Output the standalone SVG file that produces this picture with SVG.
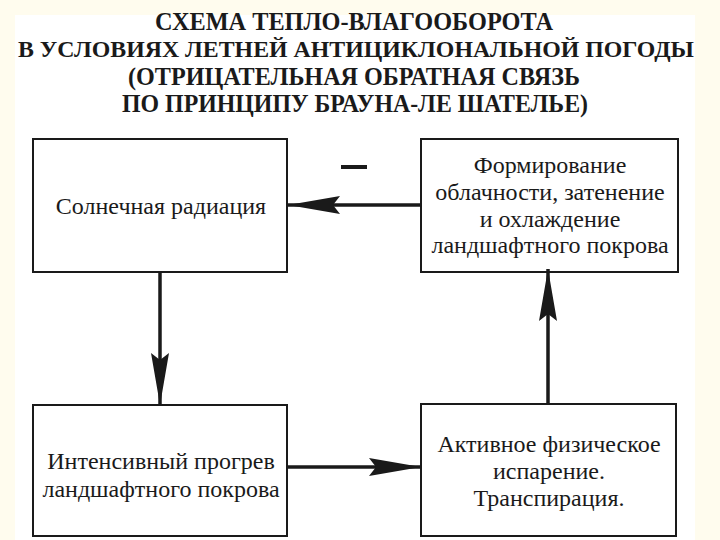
<svg xmlns="http://www.w3.org/2000/svg" width="720" height="540" viewBox="0 0 720 540">
  <style>
    .title { font-family: "Liberation Serif", "DejaVu Serif", serif; font-weight: bold; font-size: 26px; fill: #1a1a1a; text-anchor: middle; }
    .label { font-family: "Liberation Serif", "DejaVu Serif", serif; font-size: 24px; fill: #1a1a1a; text-anchor: middle; }
    .box { fill: #ffffff; stroke: #1a1a1a; stroke-width: 2; }
    .conn { stroke: #1a1a1a; stroke-width: 3.5; fill: none; }
  </style>
  <defs>
    <marker id="arrow" markerUnits="userSpaceOnUse" orient="auto" viewBox="-55 -12 57 24" refX="0" refY="0" markerWidth="57" markerHeight="24" overflow="visible">
      <path d="M0,0 L-52,-9 L-45,0 L-52,9 Z" fill="#1a1a1a"/>
    </marker>
  </defs>
  <rect x="0" y="0" width="720" height="540" fill="#fffcee"/>
  <rect x="15" y="15" width="680" height="525" fill="#ffffff"/>

  <g id="title">
    <text class="title" x="354" y="30" textLength="398" lengthAdjust="spacingAndGlyphs">СХЕМА ТЕПЛО-ВЛАГООБОРОТА</text>
    <text class="title" x="356" y="57" font-size="24" textLength="676" lengthAdjust="spacingAndGlyphs" style="font-size:24px">В УСЛОВИЯХ ЛЕТНЕЙ АНТИЦИКЛОНАЛЬНОЙ ПОГОДЫ</text>
    <text class="title" x="354" y="85" textLength="452" lengthAdjust="spacingAndGlyphs">(ОТРИЦАТЕЛЬНАЯ ОБРАТНАЯ СВЯЗЬ</text>
    <text class="title" x="355" y="112" textLength="466" lengthAdjust="spacingAndGlyphs">ПО ПРИНЦИПУ БРАУНА-ЛЕ ШАТЕЛЬЕ)</text>
  </g>

  <g id="node-solar">
    <rect class="box" x="33" y="139" width="254" height="133"/>
    <text class="label" x="161" y="214">Солнечная радиация</text>
  </g>

  <g id="node-cloud">
    <rect class="box" x="421" y="139" width="257" height="133"/>
    <text class="label" x="550" y="173">Формирование</text>
    <text class="label" x="550" y="200">облачности, затенение</text>
    <text class="label" x="550" y="227">и охлаждение</text>
    <text class="label" x="550" y="253">ландшафтного покрова</text>
  </g>

  <g id="node-heating">
    <rect class="box" x="33" y="405" width="254" height="131"/>
    <text class="label" x="161" y="469">Интенсивный прогрев</text>
    <text class="label" x="161" y="497">ландшафтного покрова</text>
  </g>

  <g id="node-evap">
    <rect class="box" x="421" y="404" width="255" height="132"/>
    <text class="label" x="549" y="452">Активное физическое</text>
    <text class="label" x="549" y="479">испарение.</text>
    <text class="label" x="549" y="506">Транспирация.</text>
  </g>

  <g id="connectors">
    <line class="conn" x1="421" y1="205" x2="288" y2="205" marker-end="url(#arrow)"/>
    <line class="conn" x1="160" y1="272" x2="160" y2="405" marker-end="url(#arrow)"/>
    <line class="conn" x1="287" y1="467" x2="421" y2="467" marker-end="url(#arrow)"/>
    <line class="conn" x1="548" y1="404" x2="548" y2="269" marker-end="url(#arrow)"/>
  </g>

  <g id="sign-minus">
    <rect x="341" y="165" width="26" height="4" fill="#1a1a1a"/>
  </g>
</svg>
